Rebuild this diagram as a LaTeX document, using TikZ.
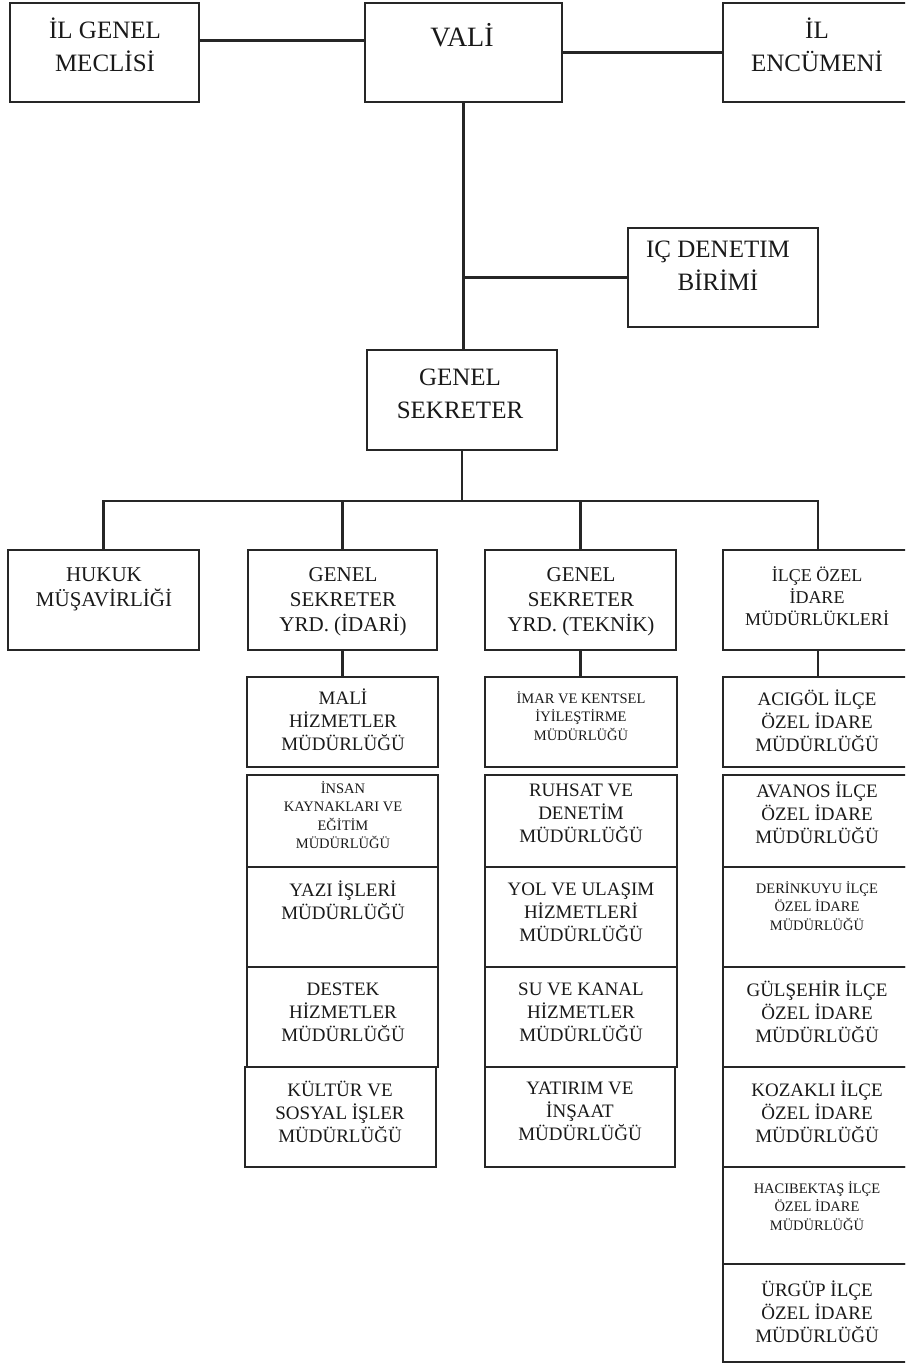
\documentclass[tikz,border=0pt]{standalone}
\usepackage{fontspec}
\setmainfont{Liberation Serif}
\newcommand\fTop{\fontsize{25}{33}\selectfont}
\newcommand\fVali{\fontsize{28}{33}\selectfont}
\newcommand\fMid{\fontsize{21}{25}\selectfont}
\newcommand\fHdr{\fontsize{18}{22}\selectfont}
\newcommand\fStk{\fontsize{19}{23}\selectfont}
\newcommand\fSml{\fontsize{14.5}{18.5}\selectfont}
\tikzset{
  orgbox/.style={draw=black!85, line width=2.2pt, inner sep=0pt, outer sep=0pt},
  txt/.style={align=center, inner sep=0pt, text=black!90},
  conn/.style={draw=black!85, line width=2.2pt},
}
% name, x1, y1, x2, y2
\newcommand\obox[5]{%
  \node[orgbox, minimum width={(#4-#2)*1pt}, minimum height={(#5-#3)*1pt}] (#1) at ({(#2+#4)/2},{(#3+#5)/2}) {};}
\begin{document}
\begin{tikzpicture}[x=1pt,y=-1pt]
\fill[white] (0,0) rectangle (905,1365);
\useasboundingbox (0,0) rectangle (905,1365);
\clip (0,0) rectangle (905,1365);

% top tier
\obox{igm}{10}{3}{199}{102}
\obox{vali}{365}{3}{562}{102}
\obox{enc}{723}{3}{913}{102}
\node[txt,font=\fTop] (igm-t) at (105,45) {İL GENEL\\MECLİSİ};
\node[txt,font=\fVali] (vali-t) at (462,35) {VALİ};
\node[txt,font=\fTop] (enc-t) at (817,45) {İL\\ENCÜMENİ};

\obox{ic}{628}{228}{818}{327}
\node[txt,font=\fTop] (ic-t) at (718,266) {IÇ DENETIM\\BİRİMİ};

\obox{gs}{367}{350}{557}{450}
\node[txt,font=\fTop] (gs-t) at (460,394) {GENEL\\SEKRETER};

% second tier
\obox{hukuk}{8}{550}{199}{650}
\obox{idari}{248}{550}{437}{650}
\obox{teknik}{485}{550}{676}{650}
\obox{ilce}{723}{550}{913}{650}
\node[txt,font=\fMid] (hukuk-t) at (104,589) {HUKUK\\MÜŞAVİRLİĞİ};
\node[txt,font=\fMid] (idari-t) at (343,602) {GENEL\\SEKRETER\\YRD. (İDARİ)};
\node[txt,font=\fMid] (teknik-t) at (581,602) {GENEL\\SEKRETER\\YRD. (TEKNİK)};
\node[txt,font=\fHdr] (ilce-t) at (817,596) {İLÇE ÖZEL\\İDARE\\MÜDÜRLÜKLERİ};

% column 2
\obox{mali}{247}{677}{438}{767}
\obox{insan}{247}{775}{438}{867}
\obox{yazi}{247}{867}{438}{967}
\obox{destek}{247}{967}{438}{1067}
\obox{kultur}{245}{1067}{436}{1167}
\node[txt,font=\fStk] (mali-t) at (343,720) {MALİ\\HİZMETLER\\MÜDÜRLÜĞÜ};
\node[txt,font=\fSml] (insan-t) at (343,815) {İNSAN\\KAYNAKLARI VE\\EĞİTİM\\MÜDÜRLÜĞÜ};
\node[txt,font=\fStk] (yazi-t) at (343,900) {YAZI İŞLERİ\\MÜDÜRLÜĞÜ};
\node[txt,font=\fStk] (destek-t) at (343,1012) {DESTEK\\HİZMETLER\\MÜDÜRLÜĞÜ};
\node[txt,font=\fStk] (kultur-t) at (340,1112) {KÜLTÜR VE\\SOSYAL İŞLER\\MÜDÜRLÜĞÜ};

% column 3
\obox{imar}{485}{677}{677}{767}
\obox{ruhsat}{485}{775}{677}{867}
\obox{yol}{485}{867}{677}{967}
\obox{su}{485}{967}{677}{1067}
\obox{yatirim}{485}{1067}{675}{1167}
\node[txt,font=\fSml] (imar-t) at (581,716) {İMAR VE KENTSEL\\İYİLEŞTİRME\\MÜDÜRLÜĞÜ};
\node[txt,font=\fStk] (ruhsat-t) at (581,813) {RUHSAT VE\\DENETİM\\MÜDÜRLÜĞÜ};
\node[txt,font=\fStk] (yol-t) at (581,912) {YOL VE ULAŞIM\\HİZMETLERİ\\MÜDÜRLÜĞÜ};
\node[txt,font=\fStk] (su-t) at (581,1012) {SU VE KANAL\\HİZMETLER\\MÜDÜRLÜĞÜ};
\node[txt,font=\fStk] (yatirim-t) at (580,1111) {YATIRIM VE\\İNŞAAT\\MÜDÜRLÜĞÜ};

% column 4
\obox{acigol}{723}{677}{913}{767}
\obox{avanos}{723}{775}{913}{867}
\obox{derinkuyu}{723}{867}{913}{967}
\obox{gulsehir}{723}{967}{913}{1067}
\obox{kozakli}{723}{1067}{913}{1167}
\obox{haci}{723}{1167}{913}{1264}
\obox{urgup}{723}{1264}{913}{1362}
\node[txt,font=\fStk] (acigol-t) at (817,721) {ACIGÖL İLÇE\\ÖZEL İDARE\\MÜDÜRLÜĞÜ};
\node[txt,font=\fStk] (avanos-t) at (817,813) {AVANOS İLÇE\\ÖZEL İDARE\\MÜDÜRLÜĞÜ};
\node[txt,font=\fSml] (derinkuyu-t) at (817,906) {DERİNKUYU İLÇE\\ÖZEL İDARE\\MÜDÜRLÜĞÜ};
\node[txt,font=\fStk] (gulsehir-t) at (817,1012) {GÜLŞEHİR İLÇE\\ÖZEL İDARE\\MÜDÜRLÜĞÜ};
\node[txt,font=\fStk] (kozakli-t) at (817,1112) {KOZAKLI İLÇE\\ÖZEL İDARE\\MÜDÜRLÜĞÜ};
\node[txt,font=\fSml] (haci-t) at (817,1206) {HACIBEKTAŞ İLÇE\\ÖZEL İDARE\\MÜDÜRLÜĞÜ};
\node[txt,font=\fStk] (urgup-t) at (817,1312) {ÜRGÜP İLÇE\\ÖZEL İDARE\\MÜDÜRLÜĞÜ};

% connectors
\draw[conn] ([yshift=12pt]igm.east) -- ([yshift=12pt]vali.west);
\draw[conn] (vali.east) -- (enc.west);
\draw[conn] (vali.south) -- (vali.south |- gs.north);
\draw[conn] (ic.west) -- (ic.west -| vali.south);
\coordinate (bus) at (460,501);
\draw[conn] (gs.south) -- (gs.south |- bus);
\draw[conn] (hukuk.north) -- (hukuk.north |- bus) -- (ilce.north |- bus) -- (ilce.north);
\draw[conn] (idari.north) -- (idari.north |- bus);
\draw[conn] (teknik.north) -- (teknik.north |- bus);
\draw[conn] (idari.south) -- (idari.south |- mali.north);
\draw[conn] (teknik.south) -- (teknik.south |- imar.north);
\draw[conn] (ilce.south) -- (ilce.south |- acigol.north);
\end{tikzpicture}
\end{document}
